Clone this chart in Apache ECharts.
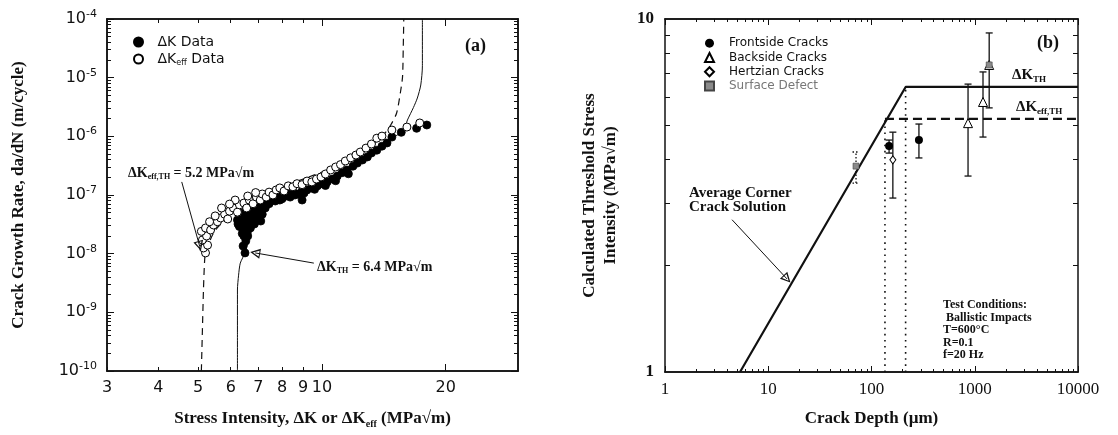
<!DOCTYPE html>
<html>
<head>
<meta charset="utf-8">
<title>Crack growth threshold</title>
<script src="https://cdn.jsdelivr.net/npm/echarts@6.0.0/dist/echarts.min.js"></script>
<style>
  html, body { margin: 0; background: #fff; }
  #chart { width: 1118px; height: 435px; }
</style>
</head>
<body>
<div id="chart"></div>
<script>
// (a) crack growth rate da/dN (m/cycle) against stress intensity (MPa√m)
const dkData = [
  [6.5, 1.03e-8], [6.43, 1.35e-8], [6.53, 1.65e-8], [6.46, 2.0e-8], [6.56, 2.34e-8], [6.43, 2.53e-8],
  [6.3, 2.9e-8], [6.53, 3.08e-8], [6.7, 2.74e-8], [6.23, 3.75e-8], [6.46, 4.06e-8], [6.66, 3.6e-8],
  [6.85, 3.2e-8], [6.6, 4.9e-8], [6.8, 4.4e-8], [6.97, 3.75e-8], [6.74, 6.0e-8], [6.97, 5.3e-8],
  [7.16, 4.7e-8], [7.04, 6.8e-8], [7.28, 6.0e-8], [7.2, 7.6e-8], [7.44, 7.1e-8], [7.52, 8.8e-8],
  [7.7, 7.9e-8], [7.83, 9.6e-8], [8.0, 8.6e-8], [8.19, 1.0e-7], [8.37, 9.2e-8], [8.56, 1.08e-7],
  [8.75, 1.04e-7], [8.95, 8.2e-8], [8.95, 1.17e-7], [9.2, 1.22e-7], [9.45, 1.32e-7], [9.75, 1.43e-7],
  [10.0, 1.56e-7], [10.3, 1.67e-7], [10.6, 1.87e-7], [10.9, 2.1e-7], [11.2, 2.4e-7], [11.5, 2.67e-7],
  [11.9, 3.1e-7], [12.2, 3.5e-7], [12.55, 3.95e-7], [12.9, 4.45e-7], [13.2, 5.2e-7], [13.6, 5.8e-7],
  [14.0, 6.8e-7], [14.4, 7.7e-7], [14.8, 9.7e-7], [15.6, 1.17e-6], [17.0, 1.37e-6], [18.0, 1.56e-6],
  [6.35, 3.3e-8], [6.9, 5.8e-8], [7.35, 8.2e-8], [7.9, 8.2e-8], [6.65, 4.5e-8], [7.1, 3.6e-8],
  [6.25, 3.2e-8], [6.4, 3.6e-8], [6.55, 3.9e-8], [6.35, 4.5e-8], [6.5, 5.3e-8], [6.7, 5.2e-8],
  [6.85, 5.0e-8], [6.6, 6.5e-8], [6.8, 6.4e-8], [7.0, 6.2e-8], [7.1, 7.3e-8], [7.3, 6.8e-8],
  [7.0, 8.0e-8], [7.25, 8.6e-8], [7.45, 9.2e-8], [7.6, 8.3e-8], [7.65, 9.7e-8], [8.1, 9.4e-8],
  [8.3, 1.04e-7], [8.6, 1.0e-7], [6.75, 4.1e-8], [6.95, 4.4e-8], [7.15, 5.5e-8], [6.4, 2.2e-8],
  [6.6, 2.0e-8], [9.05, 1.08e-7], [9.6, 1.25e-7], [10.2, 1.45e-7], [10.8, 1.75e-7], [11.6, 2.3e-7]
];
const dkEffData = [
  [5.21, 1.03e-8], [5.15, 1.25e-8], [5.27, 1.4e-8], [5.12, 1.71e-8], [5.24, 2.0e-8], [5.09, 2.4e-8],
  [5.21, 2.74e-8], [5.36, 2.53e-8], [5.45, 3.08e-8], [5.33, 3.5e-8], [5.57, 3.5e-8], [5.67, 4.06e-8],
  [5.5, 4.4e-8], [5.8, 4.7e-8], [5.9, 3.9e-8], [5.96, 5.3e-8], [6.09, 6.0e-8], [6.23, 5.1e-8],
  [6.3, 6.8e-8], [6.46, 7.3e-8], [6.56, 6.0e-8], [6.66, 8.2e-8], [6.8, 7.1e-8], [6.93, 9.2e-8],
  [7.08, 8.2e-8], [7.16, 1.04e-7], [7.32, 9.2e-8], [7.44, 1.12e-7], [7.6, 1.0e-7], [7.74, 1.22e-7],
  [7.9, 1.32e-7], [8.09, 1.17e-7], [8.28, 1.43e-7], [8.5, 1.38e-7], [8.7, 1.56e-7], [8.95, 1.5e-7],
  [9.2, 1.73e-7], [9.45, 1.67e-7], [9.7, 1.87e-7], [9.95, 2.03e-7], [10.2, 2.28e-7], [10.5, 2.67e-7],
  [10.8, 3.0e-7], [11.1, 3.3e-7], [11.4, 3.8e-7], [11.75, 4.3e-7], [12.1, 4.8e-7], [12.4, 5.4e-7],
  [12.8, 6.3e-7], [13.2, 7.4e-7], [13.6, 9.3e-7], [14.0, 1.01e-6], [14.8, 1.28e-6], [16.1, 1.44e-6],
  [17.3, 1.69e-6], [6.15, 8.2e-8], [6.6, 9.6e-8], [6.9, 1.1e-7], [5.96, 7.0e-8], [5.7, 6.0e-8]
];
const dkFit = [
  [6.23, 1e-10], [6.23, 5e-10], [6.23, 2.4e-9], [6.27, 4.3e-9], [6.33, 6.9e-9], [6.5, 1.03e-8],
  [6.85, 3.1e-8], [7.65, 7.3e-8], [8.8, 1.1e-7], [10.4, 1.8e-7], [12.3, 3.5e-7], [14.5, 8.3e-7],
  [15.8, 1.28e-6], [16.15, 1.9e-6], [16.7, 3.1e-6], [17.07, 4.5e-6], [17.4, 7.5e-6], [17.56, 1.6e-5],
  [17.56, 1e-4]
];
const dkEffFit = [
  [5.09, 1e-10], [5.12, 5.0e-10], [5.15, 2.4e-9], [5.18, 6.9e-9], [5.21, 1.03e-8], [5.5, 2.5e-8],
  [6.3, 6.0e-8], [8.3, 1.5e-7], [11, 3.2e-7], [13, 6.3e-7], [14.1, 1.05e-6], [14.7, 1.56e-6],
  [15.2, 2.5e-6], [15.53, 5.7e-6], [15.71, 1.03e-5], [15.77, 2.96e-5], [15.82, 1e-4]
];
// annotation arrows: [from, to]
const thresholdArrows = [
  [[4.56, 1.67e-7], [5.04, 1.35e-8]],
  [[9.56, 6.9e-9], [6.88, 1.03e-8]]
];
const aXTickLabels = [3, 4, 5, 6, 7, 8, 9, 10, 20];
const aXMajorTicks = [10, 20];
const aYDecades = [-10, -9, -8, -7, -6, -5, -4];

// (b) calculated threshold stress intensity against crack depth
const cornerSolution = [[5.33, 1], [214, 6.42], [10000, 6.42]];
const effThreshold = [[135, 5.21], [10000, 5.21]];
const depthMarkers = [[[135, 1], [135, 5.21]], [[214, 1], [214, 6.42]]];
// depth (µm), value, low, high
const frontside = [[148, 4.37, 4.17, 4.54], [288, 4.54, 4.04, 5.04]];
const backside = [[861, 5.07, 3.59, 6.54], [1202, 5.82, 4.63, 7.08], [1380, 7.41, 5.60, 9.13]];
const hertzian = [[161, 3.99, 3.11, 4.78]];
const surfaceDefect = [[70.8, 3.83, 3.43, 4.20], [1380, 7.41]];
const cornerArrow = [[4.46, 2.70], [15.2, 1.835]];
const bXDecades = [0, 1, 2, 3, 4];
const bYDecades = [0, 1];

const INK = '#111';
const SERIF = '"Liberation Serif", "DejaVu Serif", serif';
const SANS = '"DejaVu Sans", sans-serif';
const ARROW = 'path://M0,12 L4,0 L8,12 Z M1.6,10.8 L6.4,10.8 L4,3.2 Z';

const lg = Math.log10;
const toLog = rows => rows.map(r => [lg(r[0]), lg(r[1])]);
const barRows = rows => rows.filter(r => r.length > 2).map(r => [lg(r[0]), lg(r[2]), lg(r[3])]);

function logMinor(lo, hi) {
  const out = [];
  for (let e = lo; e < hi; e++) for (let m = 2; m <= 9; m++) out.push(e + lg(m));
  return out;
}

function makeAxis(o) {
  return {
    type: 'value', gridIndex: o.grid, position: o.pos, min: o.min, max: o.max,
    name: o.name || '', nameLocation: 'middle', nameGap: o.nameGap || 0,
    nameTextStyle: o.nameStyle || {},
    axisLine: { show: true, onZero: false, lineStyle: { color: INK, width: 1.5 } },
    axisTick: { show: true, inside: true, length: o.len, customValues: o.ticks, lineStyle: { color: INK, width: 1 } },
    axisLabel: o.labels
      ? Object.assign({ show: true, customValues: o.labels, formatter: o.fmt, margin: o.margin, color: INK }, o.labelStyle)
      : { show: false },
    splitLine: { show: false },
    axisPointer: { show: false }
  };
}

const titleStyle = (extra) => Object.assign({
  fontFamily: SERIF, fontWeight: 'bold', fontSize: 17, color: INK,
  rich: { sub: { fontFamily: SERIF, fontWeight: 'bold', fontSize: 10, color: INK, padding: [10, 0, 0, 0] } }
}, extra);

const aX = { min: lg(3), max: lg(30) };
const aY = { min: -10, max: -4 };
const bX = { min: 0, max: 4 };
const bY = { min: 0, max: 1 };

const xAxes = [
  makeAxis(Object.assign({ grid: 0, pos: 'bottom', len: 4, ticks: [3, 4, 5, 6, 7, 8, 9].map(lg),
    labels: aXTickLabels.map(lg), fmt: v => String(Math.round(Math.pow(10, v))), margin: 9,
    labelStyle: { fontFamily: SANS, fontSize: 16 },
    name: 'Stress Intensity, ΔK or ΔK{sub|eff} (MPa√m)', nameGap: 38, nameStyle: titleStyle() }, aX)),
  makeAxis(Object.assign({ grid: 0, pos: 'bottom', len: 7, ticks: aXMajorTicks.map(lg) }, aX)),
  makeAxis(Object.assign({ grid: 0, pos: 'top', len: 4, ticks: [3, 4, 5, 6, 7, 8, 9].map(lg) }, aX)),
  makeAxis(Object.assign({ grid: 0, pos: 'top', len: 7, ticks: aXMajorTicks.map(lg) }, aX)),
  makeAxis(Object.assign({ grid: 1, pos: 'bottom', len: 6, ticks: bXDecades,
    labels: bXDecades, fmt: v => String(Math.round(Math.pow(10, v))), margin: 9,
    labelStyle: { fontFamily: SERIF, fontSize: 17 },
    name: 'Crack Depth (µm)', nameGap: 38, nameStyle: titleStyle() }, bX)),
  makeAxis(Object.assign({ grid: 1, pos: 'bottom', len: 3, ticks: logMinor(0, 4) }, bX)),
  makeAxis(Object.assign({ grid: 1, pos: 'top', len: 6, ticks: bXDecades }, bX)),
  makeAxis(Object.assign({ grid: 1, pos: 'top', len: 3, ticks: logMinor(0, 4) }, bX))
];

const yAxes = [
  makeAxis(Object.assign({ grid: 0, pos: 'left', len: 7, ticks: aYDecades,
    labels: aYDecades, fmt: v => '10{sup|' + Math.round(v) + '}', margin: 10,
    labelStyle: { fontFamily: SANS, fontSize: 16,
      rich: { sup: { fontFamily: SANS, fontSize: 11, color: INK, padding: [0, 0, 10, 0] } } },
    name: 'Crack Growth Rate, da/dN (m/cycle)', nameGap: 80, nameStyle: titleStyle() }, aY)),
  makeAxis(Object.assign({ grid: 0, pos: 'left', len: 4, ticks: logMinor(-10, -4) }, aY)),
  makeAxis(Object.assign({ grid: 0, pos: 'right', len: 7, ticks: aYDecades }, aY)),
  makeAxis(Object.assign({ grid: 0, pos: 'right', len: 4, ticks: logMinor(-10, -4) }, aY)),
  makeAxis(Object.assign({ grid: 1, pos: 'left', len: 5, ticks: logMinor(0, 1),
    labels: bYDecades, fmt: v => String(Math.round(Math.pow(10, v))), margin: 11,
    labelStyle: { fontFamily: SERIF, fontSize: 17, fontWeight: 'bold' },
    name: 'Calculated Threshold Stress\nIntensity (MPa√m)', nameGap: 44,
    nameStyle: titleStyle({ lineHeight: 21 }) }, bY)),
  makeAxis(Object.assign({ grid: 1, pos: 'right', len: 5, ticks: logMinor(0, 1) }, bY))
];

function errorBar(dotted) {
  return function (params, api) {
    const x = api.value(0);
    const lo = api.coord([x, api.value(1)]);
    const hi = api.coord([x, api.value(2)]);
    const cap = 3.5;
    const style = { stroke: INK, lineWidth: 1.3, lineDash: dotted ? [1.5, 2] : null, fill: null };
    return {
      type: 'group',
      children: [
        { type: 'line', shape: { x1: lo[0], y1: lo[1], x2: hi[0], y2: hi[1] }, style },
        { type: 'line', shape: { x1: hi[0] - cap, y1: hi[1], x2: hi[0] + cap, y2: hi[1] }, style },
        { type: 'line', shape: { x1: lo[0] - cap, y1: lo[1], x2: lo[0] + cap, y2: lo[1] }, style }
      ]
    };
  };
}

const arrowLine = pairs => ({
  silent: true, symbol: ['none', ARROW], symbolSize: 10,
  label: { show: false }, emphasis: { disabled: true },
  lineStyle: { color: INK, width: 1, type: 'solid' },
  data: pairs.map(([a, b]) => [{ coord: [lg(a[0]), lg(a[1])] }, { coord: [lg(b[0]), lg(b[1])] }])
});

const A = { xAxisIndex: 0, yAxisIndex: 0 };
const B = { xAxisIndex: 4, yAxisIndex: 4 };

const series = [
  Object.assign({ type: 'line', name: 'dkFit', data: toLog(dkFit), symbol: 'none', smooth: 0.25, z: 1,
    lineStyle: { color: INK, width: 1 }, markLine: arrowLine(thresholdArrows) }, A),
  Object.assign({ type: 'line', name: 'dkEffFit', data: toLog(dkEffFit), symbol: 'none', smooth: 0.25, z: 1,
    lineStyle: { color: INK, width: 1.2, type: [7, 5] } }, A),
  Object.assign({ type: 'scatter', name: 'dk', data: toLog(dkData), symbol: 'circle', symbolSize: 8, z: 3,
    itemStyle: { color: '#000', borderColor: '#000', borderWidth: 0.8, opacity: 1 } }, A),
  Object.assign({ type: 'scatter', name: 'dkEff', data: toLog(dkEffData), symbol: 'circle', symbolSize: 8, z: 4,
    itemStyle: { color: '#fff', borderColor: '#000', borderWidth: 1, opacity: 1 } }, A),

  Object.assign({ type: 'line', name: 'corner', data: toLog(cornerSolution), symbol: 'none', z: 2,
    lineStyle: { color: INK, width: 2.2 }, markLine: arrowLine([cornerArrow]) }, B),
  Object.assign({ type: 'line', name: 'effTH', data: toLog(effThreshold), symbol: 'none', z: 2,
    lineStyle: { color: INK, width: 2.2, type: [9, 5] } }, B)
].concat(depthMarkers.map((seg, i) => Object.assign({
  type: 'line', name: 'depth' + i, data: toLog(seg), symbol: 'none', z: 2,
  lineStyle: { color: INK, width: 1.6, type: [1.6, 4.5] }
}, B))).concat([
  Object.assign({ type: 'custom', name: 'bars', data: barRows([...frontside, ...backside, ...hertzian]),
    renderItem: errorBar(false), encode: { x: 0, y: [1, 2] }, z: 3 }, B),
  Object.assign({ type: 'custom', name: 'dottedBars', data: barRows(surfaceDefect),
    renderItem: errorBar(true), encode: { x: 0, y: [1, 2] }, z: 3 }, B),
  Object.assign({ type: 'scatter', name: 'Frontside Cracks', data: toLog(frontside), symbol: 'circle', symbolSize: 8, z: 5,
    itemStyle: { color: '#000', opacity: 1 } }, B),
  Object.assign({ type: 'scatter', name: 'Backside Cracks', data: toLog(backside), symbol: 'triangle', symbolSize: 9, z: 5,
    itemStyle: { color: '#fff', borderColor: '#000', borderWidth: 1, opacity: 1 } }, B),
  Object.assign({ type: 'scatter', name: 'Hertzian Cracks', data: toLog(hertzian), symbol: 'diamond', symbolSize: [6, 8], z: 5,
    itemStyle: { color: '#fff', borderColor: '#000', borderWidth: 1, opacity: 1 } }, B),
  Object.assign({ type: 'scatter', name: 'Surface Defect', data: toLog(surfaceDefect), symbol: 'rect', symbolSize: 6, z: 6,
    itemStyle: { color: '#8a8a8a', borderColor: '#444', borderWidth: 0.6, opacity: 1 } }, B)
]);

const subRich = size => ({
  s: { fontFamily: SERIF, fontWeight: 'bold', fontSize: size, fill: INK, padding: [size, 0, 0, 0] }
});
function note(x, y, text, size, extra) {
  return {
    type: 'text', x, y, silent: true,
    style: Object.assign({ text, fontFamily: SERIF, fontWeight: 'bold', fontSize: size, fill: INK,
      verticalAlign: 'middle', rich: subRich(Math.round(size * 0.6)) }, extra)
  };
}

const legendText = { dk: 'ΔK Data', dkEff: 'ΔK{sub|eff} Data' };

const chart = echarts.init(document.getElementById('chart'), null, { renderer: 'canvas' });
chart.setOption({
  animation: false,
  backgroundColor: '#fff',
  textStyle: { fontFamily: SANS },
  grid: [
    { left: 107, top: 19, width: 411, height: 352, outerBoundsMode: 'none' },
    { left: 665, top: 19, width: 413, height: 353, outerBoundsMode: 'none' }
  ],
  xAxis: xAxes,
  yAxis: yAxes,
  legend: [
    {
      data: ['dk', 'dkEff'], left: 133, top: 34, orient: 'vertical', padding: 0,
      itemWidth: 22, itemHeight: 9, itemGap: 1, selectedMode: false,
      formatter: n => legendText[n],
      textStyle: { fontFamily: SANS, fontSize: 14, color: INK, lineHeight: 16, padding: [0, 0, 0, 3],
        rich: { sub: { fontFamily: SANS, fontSize: 8, color: INK, padding: [8, 0, 0, 0] } } }
    },
    {
      data: ['Frontside Cracks', 'Backside Cracks', 'Hertzian Cracks',
        { name: 'Surface Defect', textStyle: { color: '#777' } }],
      left: 704, top: 36, orient: 'vertical', padding: 0,
      itemWidth: 9, itemHeight: 9, itemGap: 0, selectedMode: false,
      textStyle: { fontFamily: SANS, fontSize: 12, color: INK, lineHeight: 14.3, padding: [0, 0, 0, 10] }
    }
  ],
  series,
  graphic: [
    note(128, 173, 'ΔK{s|eff,TH} = 5.2 MPa√m', 14),
    note(317, 267, 'ΔK{s|TH} = 6.4 MPa√m', 14),
    note(465, 46, '(a)', 18),
    note(1037, 43, '(b)', 18),
    note(1012, 75, 'ΔK{s|TH}', 15),
    note(1016, 107, 'ΔK{s|eff,TH}', 15),
    note(689, 200, 'Average Corner\nCrack Solution', 15, { lineHeight: 14 }),
    note(943, 330, 'Test Conditions:\n Ballistic Impacts\nT=600°C\nR=0.1\nf=20 Hz', 12, { lineHeight: 12.5 })
  ]
});
</script>
</body>
</html>
